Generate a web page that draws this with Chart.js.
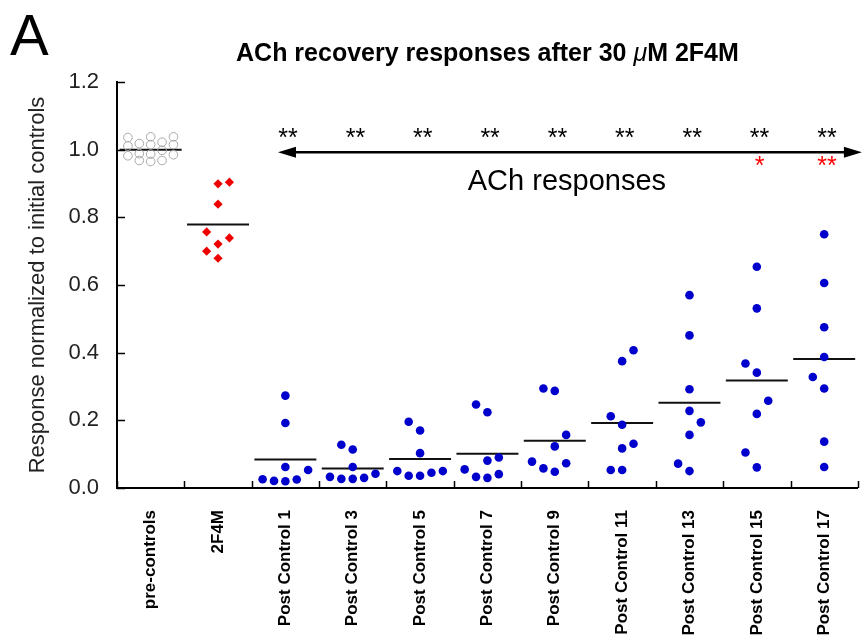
<!DOCTYPE html>
<html lang="en">
<head>
<meta charset="UTF-8">
<title>ACh recovery responses after 30 μM 2F4M</title>
<script src="https://cdn.jsdelivr.net/npm/chart.js"></script>
<style>
  body { margin: 0; background: #fff; }
</style>
</head>
<body>
<canvas id="dotChart" width="867" height="637"></canvas>
<script>
const categories = ['pre-controls', '2F4M', 'Post Control 1', 'Post Control 3', 'Post Control 5',
  'Post Control 7', 'Post Control 9', 'Post Control 11', 'Post Control 13', 'Post Control 15', 'Post Control 17'];
const yTicks = [0, 0.2, 0.4, 0.6, 0.8, 1.0, 1.2];

// dot values per group, and the column (-2..2) each dot sits in
const preValues = [1.036, 1.011, 0.982, 1.018, 0.988, 0.968, 1.038, 1.015, 0.987, 0.965, 1.022, 0.998, 0.968, 1.038, 1.015, 0.985];
const preCols = [-2, -2, -2, -1, -1, -1, 0, 0, 0, 0, 1, 1, 1, 2, 2, 2];

const drugValues = [0.899, 0.904, 0.839, 0.757, 0.739, 0.721, 0.700, 0.679];
const drugCols = [0, 1, 0, -1, 1, 0, -1, 0];

const postValues = [
  [0.273, 0.192, 0.062, 0.053, 0.026, 0.021, 0.020, 0.025],
  [0.128, 0.114, 0.062, 0.042, 0.033, 0.027, 0.027, 0.030],
  [0.196, 0.170, 0.103, 0.050, 0.036, 0.036, 0.045, 0.050],
  [0.247, 0.224, 0.081, 0.090, 0.055, 0.033, 0.030, 0.041],
  [0.294, 0.287, 0.157, 0.123, 0.078, 0.058, 0.048, 0.073],
  [0.407, 0.375, 0.212, 0.187, 0.131, 0.117, 0.053, 0.053],
  [0.570, 0.451, 0.292, 0.228, 0.194, 0.157, 0.072, 0.050],
  [0.654, 0.531, 0.368, 0.341, 0.258, 0.219, 0.105, 0.061],
  [0.750, 0.606, 0.475, 0.387, 0.328, 0.294, 0.137, 0.062]
];
const postCols = [
  [0, 0, 0, 2, -2, -1, 0, 1],
  [-1, 0, 0, 2, -2, -1, 0, 1],
  [-1, 0, 0, -2, -1, 0, 1, 2],
  [-1, 0, 0, 1, -2, -1, 0, 1],
  [-1, 0, 1, 0, -2, -1, 0, 1],
  [1, 0, -1, 0, 1, 0, -1, 0],
  [0, 0, 0, 0, 1, 0, -1, 0],
  [0, 0, -1, 0, 1, 0, -1, 0],
  [0, 0, 0, 0, -1, 0, 0, 0]
];

const groupMeans = [1.0, 0.779, 0.084, 0.058, 0.086, 0.101, 0.140, 0.192, 0.252, 0.318, 0.381];

// significance marks
const blackStarGroups = [2, 3, 4, 5, 6, 7, 8, 9, 10];
const redStarGroups = [9, 10];
const redStarText = ['*', '**'];

const FONT = '"Liberation Sans", Arial, sans-serif';
const colStep = 0.169;   // horizontal spacing of dot columns, in category widths
const halfMean = 0.46;   // half length of mean bar

function dots(cat, vals, cols) {
  return vals.map((v, k) => ({ x: cat + cols[k] * colStep, y: v }));
}

const datasets = [];
datasets.push({
  label: categories[0],
  data: dots(0, preValues, preCols),
  pointStyle: 'circle', pointRadius: 4.3,
  backgroundColor: 'rgba(255,255,255,0)', borderColor: '#a8a8a8', borderWidth: 1
});
datasets.push({
  label: categories[1],
  data: dots(1, drugValues, drugCols),
  pointStyle: 'rectRot', pointRadius: 4.6,
  backgroundColor: '#ee0000', borderColor: '#ee0000', borderWidth: 0
});
postValues.forEach((vals, g) => {
  datasets.push({
    label: categories[g + 2],
    data: dots(g + 2, vals, postCols[g]),
    pointStyle: 'circle', pointRadius: 4.3,
    backgroundColor: '#0000cc', borderColor: '#0000cc', borderWidth: 0
  });
});
groupMeans.forEach((m, i) => {
  datasets.push({
    label: 'mean ' + categories[i],
    data: [{ x: i - halfMean, y: m }, { x: i + halfMean, y: m }],
    showLine: true, pointRadius: 0,
    borderColor: '#111', borderWidth: 2
  });
});

const extras = {
  id: 'extras',
  afterDraw(chart) {
    const { ctx, chartArea: area } = chart;
    const x = chart.scales.x, y = chart.scales.y;
    ctx.save();

    // panel letter
    ctx.fillStyle = '#000';
    ctx.font = '58px ' + FONT;
    ctx.textAlign = 'left';
    ctx.textBaseline = 'alphabetic';
    ctx.fillText('A', 10, 55);

    // title with italic mu
    const parts = [
      ['ACh recovery responses after 30 ', 'bold 25px ' + FONT],
      ['\u03bc', 'italic 25px ' + FONT],
      ['M 2F4M', 'bold 25px ' + FONT]
    ];
    let total = 0;
    parts.forEach(p => { ctx.font = p[1]; total += ctx.measureText(p[0]).width; });
    let tx = (area.left + area.right) / 2 - total / 2;
    parts.forEach(p => {
      ctx.font = p[1];
      ctx.fillText(p[0], tx, 61);
      tx += ctx.measureText(p[0]).width;
    });

    // inward tick marks
    ctx.strokeStyle = '#000';
    ctx.lineWidth = 1.5;
    ctx.beginPath();
    yTicks.forEach(v => {
      const py = Math.round(y.getPixelForValue(v)) + 0.5;
      ctx.moveTo(area.left, py);
      ctx.lineTo(area.left + 8, py);
    });
    for (let i = 0; i <= categories.length; i++) {
      const px = Math.round(x.getPixelForValue(i - 0.5)) + 0.5;
      ctx.moveTo(px, area.bottom);
      ctx.lineTo(px, area.bottom - 7);
    }
    ctx.stroke();

    // double-headed arrow
    const ay = y.getPixelForValue(0.992);
    const ax1 = x.getPixelForValue(1.89);
    const ax2 = x.getPixelForValue(10.56);
    const head = 18, hw = 5.5;
    ctx.lineWidth = 2.5;
    ctx.beginPath();
    ctx.moveTo(ax1 + head - 2, ay);
    ctx.lineTo(ax2 - head + 2, ay);
    ctx.stroke();
    ctx.beginPath();
    ctx.moveTo(ax1, ay); ctx.lineTo(ax1 + head, ay - hw); ctx.lineTo(ax1 + head, ay + hw); ctx.closePath();
    ctx.moveTo(ax2, ay); ctx.lineTo(ax2 - head, ay - hw); ctx.lineTo(ax2 - head, ay + hw); ctx.closePath();
    ctx.fill();

    // stars
    ctx.font = '25px ' + FONT;
    ctx.textAlign = 'center';
    blackStarGroups.forEach(g => {
      ctx.fillText('**', x.getPixelForValue(g + 0.04), y.getPixelForValue(1.01));
    });
    ctx.fillStyle = '#ff0000';
    redStarGroups.forEach((g, k) => {
      ctx.fillText(redStarText[k], x.getPixelForValue(g + 0.04), y.getPixelForValue(0.928));
    });

    // arrow caption
    ctx.fillStyle = '#000';
    ctx.font = '29px ' + FONT;
    ctx.fillText('ACh responses', x.getPixelForValue(6.18), y.getPixelForValue(0.881));

    ctx.restore();
  }
};

new Chart(document.getElementById('dotChart'), {
  type: 'scatter',
  data: { datasets },
  options: {
    responsive: false,
    animation: false,
    events: [],
    layout: { padding: { top: 82, right: 7, left: 0, bottom: 0 } },
    plugins: { legend: { display: false }, tooltip: { enabled: false }, title: { display: false } },
    scales: {
      x: { type: 'linear', min: -0.5, max: 10.5, display: false },
      xc: {
        type: 'category', labels: categories, position: 'bottom', offset: true,
        afterFit(s) { s.height = 149; },
        ticks: {
          autoSkip: false, minRotation: 90, maxRotation: 90, padding: 22,
          font: { family: FONT, size: 17, weight: 'bold' }, color: '#000'
        },
        grid: { display: false, drawTicks: false, offset: true },
        border: { display: true, color: '#000', width: 2 }
      },
      y: {
        min: 0, max: 1.2,
        afterFit(s) { s.width = 117; },
        afterBuildTicks(s) { s.ticks = yTicks.map(v => ({ value: v })); },
        ticks: { callback: v => v.toFixed(1), font: { family: FONT, size: 22 }, color: '#222', padding: 18 },
        grid: { display: false, drawTicks: false },
        border: { display: true, color: '#000', width: 2 },
        title: {
          display: true, text: 'Response normalized to initial controls',
          font: { family: FONT, size: 22 }, color: '#222', padding: { top: 25, bottom: 0 }
        }
      }
    }
  },
  plugins: [extras]
});
</script>
</body>
</html>
